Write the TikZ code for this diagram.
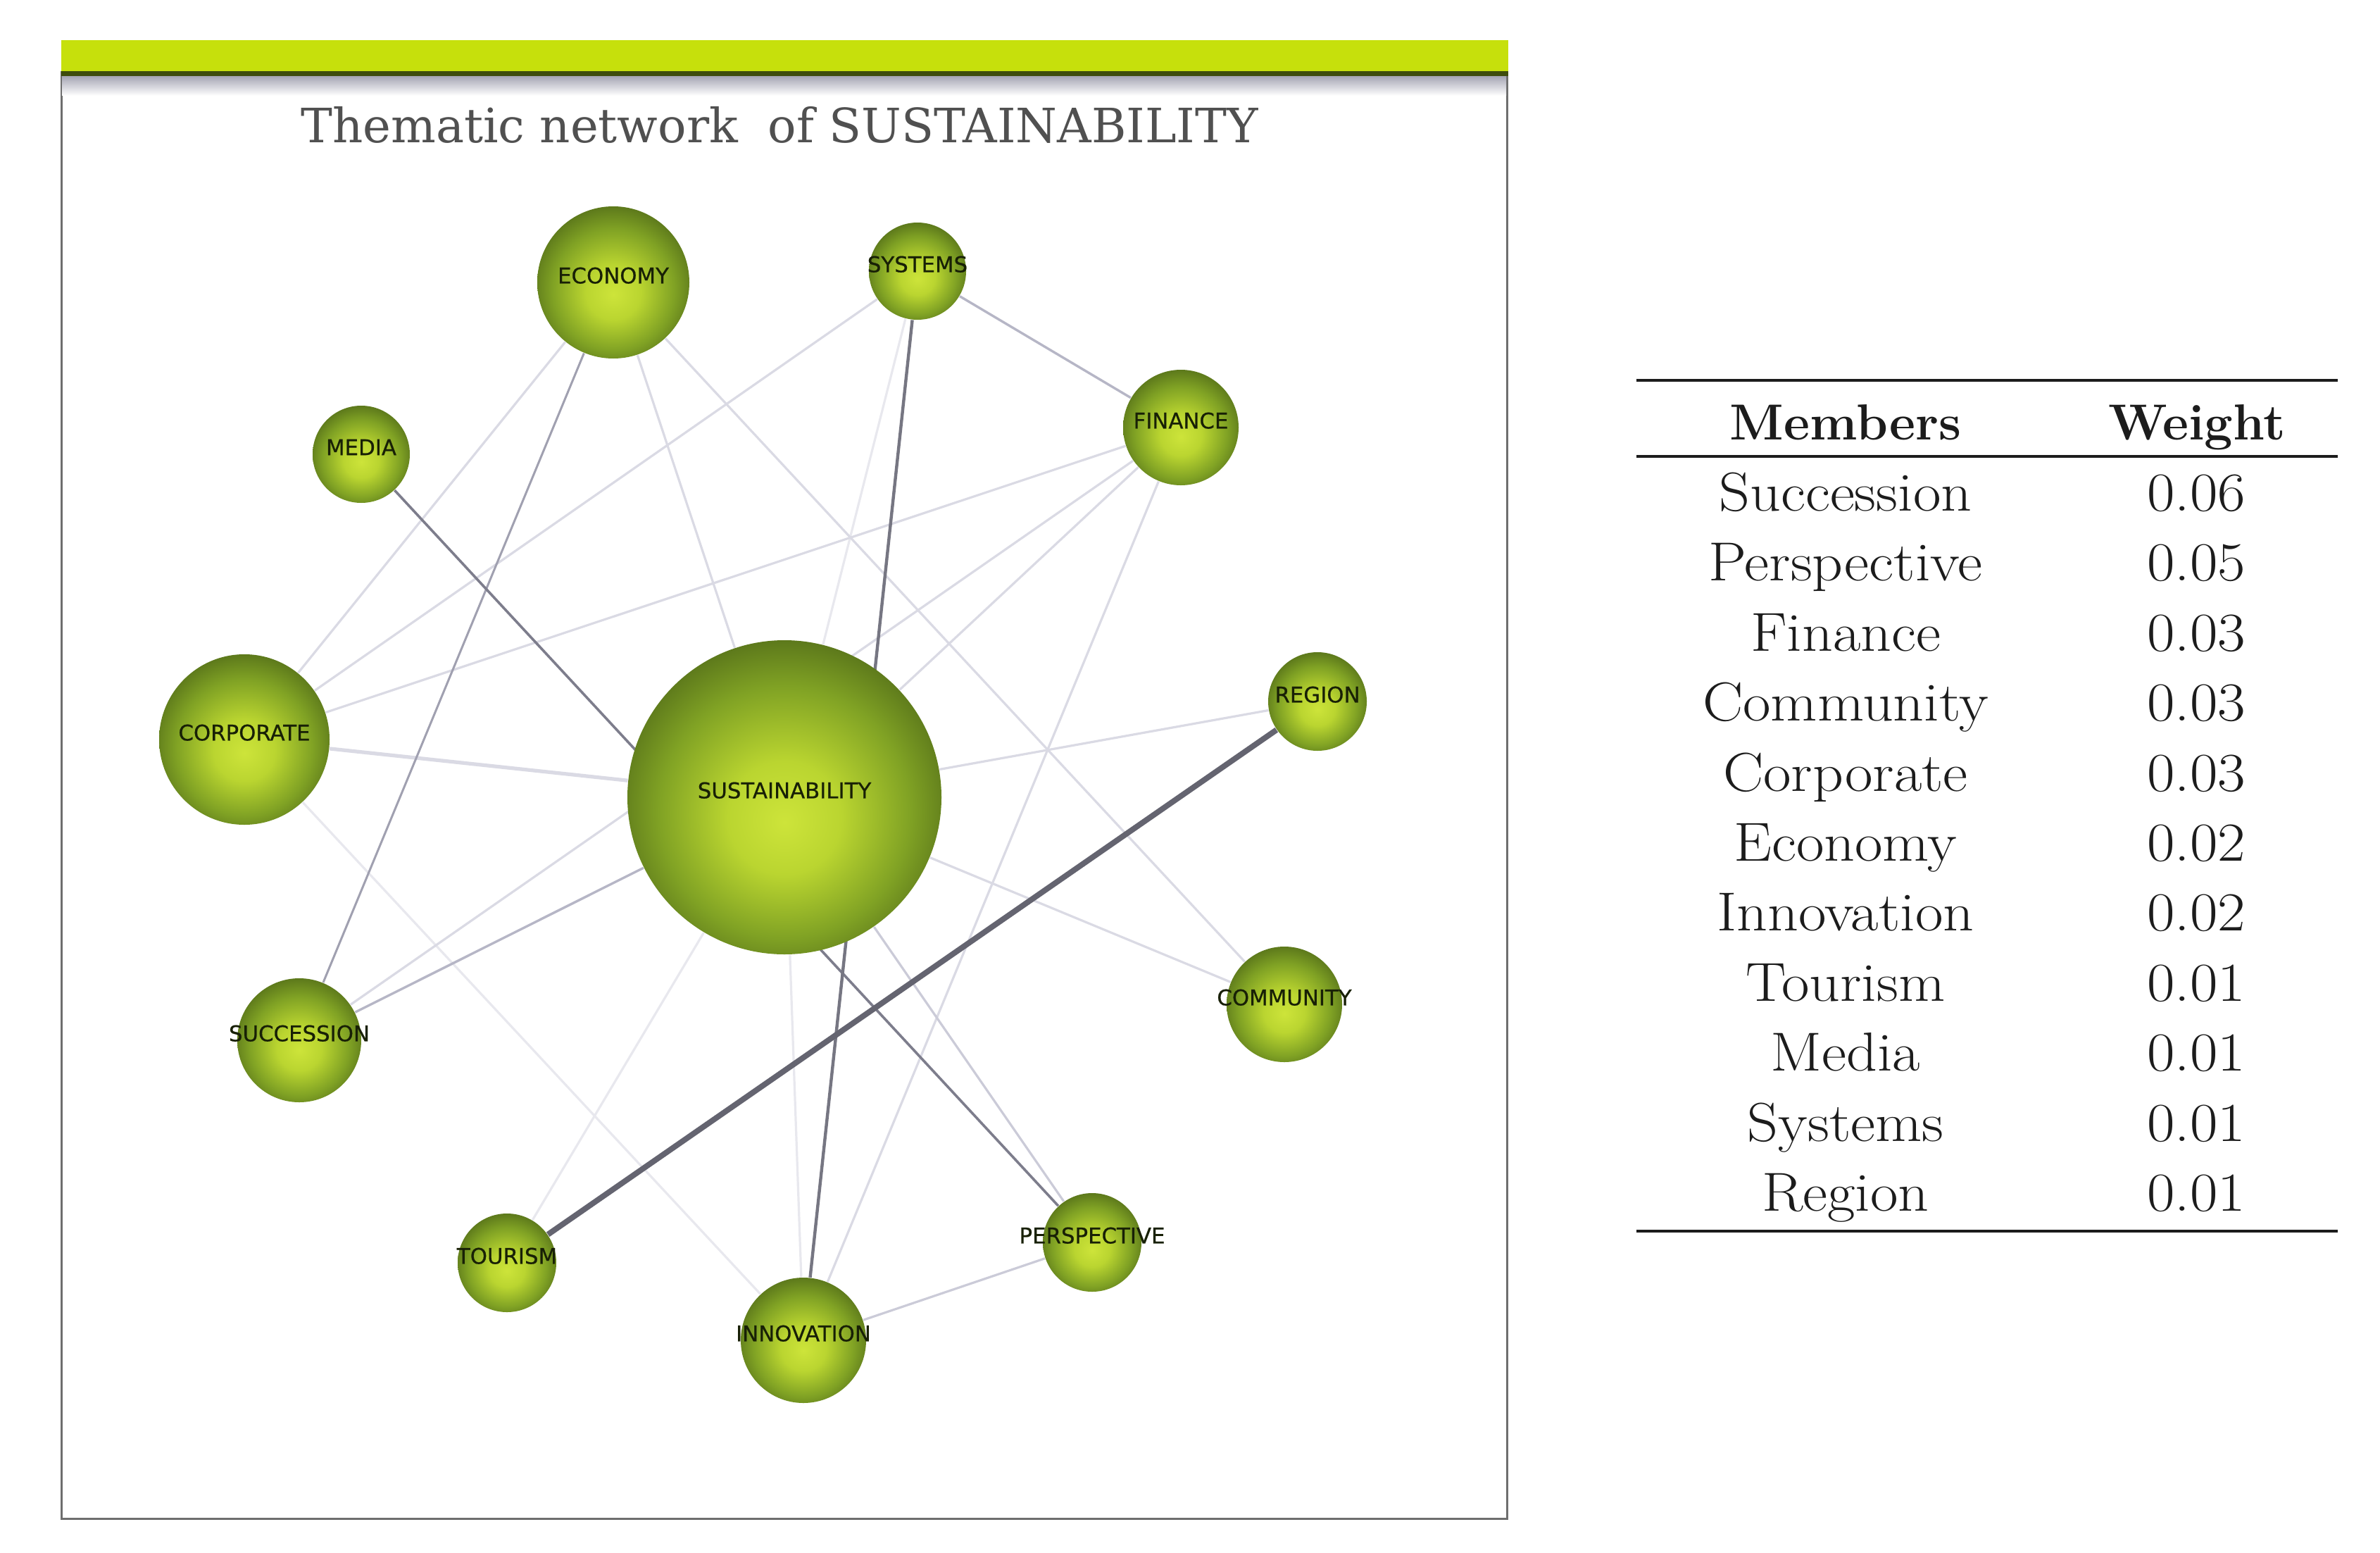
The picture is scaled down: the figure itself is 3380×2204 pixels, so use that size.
\documentclass[tikz,border=0pt]{standalone}
\usepackage{fontspec}
\newfontfamily\lblfont[FakeBold=0.6]{DejaVu Sans}
\newfontfamily\ttlfont{DejaVu Serif}
\newfontfamily\tabfont[FakeStretch=1.1]{Latin Modern Roman}
\newfontfamily\tabheadfont{Latin Modern Roman}

\definecolor{sphA}{RGB}{205,228,58}
\definecolor{sphB}{RGB}{186,213,48}
\definecolor{sphC}{RGB}{128,162,36}
\definecolor{sphD}{RGB}{92,120,27}
\pgfdeclareradialshading{sph}{\pgfpoint{0bp}{-4bp}}{color(0bp)=(sphA); color(9bp)=(sphB); color(20bp)=(sphC); color(27bp)=(sphD); color(50bp)=(sphD)}

\definecolor{lblc}{RGB}{24,32,6}
\definecolor{ttlc}{RGB}{80,80,80}
\definecolor{barg}{RGB}{198,224,12}
\definecolor{bardark}{RGB}{62,76,12}
\definecolor{framec}{RGB}{110,110,110}
\definecolor{tabc}{RGB}{28,28,28}
\definecolor{edThick}{RGB}{100,100,112}
\definecolor{edDark}{RGB}{118,118,130}
\definecolor{edDarkB}{RGB}{125,125,140}
\definecolor{edMid}{RGB}{160,160,176}
\definecolor{edML}{RGB}{182,182,198}
\definecolor{edLB}{RGB}{203,203,216}
\definecolor{edL}{RGB}{218,218,228}
\definecolor{edF}{RGB}{232,232,238}

\pgfdeclarelayer{back}
\pgfdeclarelayer{edges}
\pgfsetlayers{back,edges,main}

\newcommand\lb[1]{\makebox[0pt]{#1}}

\tikzset{
  sphere/.style={circle, inner sep=0pt, shading=sph, text depth=5pt,
    font=\lblfont\fontsize{7.7}{8}\selectfont, text=lblc},
  eThick/.style={draw=edThick, line width=2pt},
  eDark/.style={draw=edDark, line width=1.1pt},
  eDarkB/.style={draw=edDarkB, line width=0.9pt},
  eMid/.style={draw=edMid, line width=0.75pt},
  eML/.style={draw=edML, line width=0.85pt},
  eLB/.style={draw=edLB, line width=0.8pt},
  eL/.style={draw=edL, line width=0.8pt},
  eF/.style={draw=edF, line width=0.8pt},
  eWide/.style={draw=edL, line width=1.3pt},
  tabtxt/.style={anchor=base, inner sep=0pt, text=tabc,
    font=\tabfont\fontsize{19.5}{22}\selectfont},
  tabhead/.style={tabtxt, font=\tabheadfont\bfseries\fontsize{18}{22}\selectfont},
  rulel/.style={draw=tabc, line width=1pt}
}

\begin{document}
\begin{tikzpicture}[x=0.25pt, y=-0.25pt]
\useasboundingbox (0,0) rectangle (3380,2204);

\begin{pgfonlayer}{back}
  \fill[white] (0,0) rectangle (3380,2204);
  \draw[framec, line width=0.75pt] (87,103) rectangle (2140,2156);
  \shade[top color={rgb,255:red,165;green,165;blue,180}, bottom color=white] (88,108) rectangle (2139,136);
  \fill[barg] (87,57) rectangle (2142,104);
  \fill[bardark] (87,101) rectangle (2142,108);
\end{pgfonlayer}

% title
\node[anchor=base, inner sep=0pt, text=ttlc] (title) at (1107,203)
  {\resizebox{339.75pt}{!}{\ttlfont Thematic network\ \ of SUSTAINABILITY}};

% nodes
\node[sphere, minimum size=111.5pt] (sus) at (1114,1132) {\lb{SUSTAINABILITY}};
\node[sphere, minimum size=54pt]   (eco) at (871,401)  {\lb{ECONOMY}};
\node[sphere, minimum size=34.5pt] (sys) at (1303,385) {\lb{SYSTEMS}};
\node[sphere, minimum size=34.5pt] (med) at (513,645)  {\lb{MEDIA}};
\node[sphere, minimum size=41pt]   (fin) at (1677,607) {\lb{FINANCE}};
\node[sphere, minimum size=60.5pt] (cor) at (347,1050) {\lb{CORPORATE}};
\node[sphere, minimum size=35pt]   (reg) at (1871,996) {\lb{REGION}};
\node[sphere, minimum size=44pt]   (suc) at (425,1477) {\lb{SUCCESSION}};
\node[sphere, minimum size=41pt]   (com) at (1824,1426) {\lb{COMMUNITY}};
\node[sphere, minimum size=35pt]   (tou) at (720,1793) {\lb{TOURISM}};
\node[sphere, minimum size=35pt]   (per) at (1551,1764) {\lb{PERSPECTIVE}};
\node[sphere, minimum size=44.5pt] (inn) at (1141,1903) {\lb{INNOVATION}};

% edges
\begin{pgfonlayer}{edges}
  \draw[eF] (cor) -- (inn);
  \draw[eF] (sys) -- (sus);
  \draw[eF] (tou) -- (sus);
  \draw[eF] (sus) -- (inn);
  \draw[eL] (cor) -- (sys);
  \draw[eL] (cor) -- (fin);
  \draw[eL] (cor) -- (eco);
  \draw[eWide] (cor) -- (sus);
  \draw[eL] (eco) -- (sus);
  \draw[eL] (eco) -- (com);
  \draw[eL] (fin) -- (sus);
  \draw[eL] (fin) -- (suc);
  \draw[eL] (fin) -- (inn);
  \draw[eL] (sus) -- (reg);
  \draw[eL] (sus) -- (com);
  \draw[eLB] (per) -- (sus);
  \draw[eLB] (inn) -- (per);
  \draw[eML] (suc) -- (sus);
  \draw[eML] (sys) -- (fin);
  \draw[eMid] (eco) -- (suc);
  \draw[eDarkB] (med) -- (per);
  \draw[eDark] (sys) -- (inn);
  \draw[eThick] (reg) -- (tou);
\end{pgfonlayer}

% table
\draw[rulel] (2324,540) -- (3320,540);
\draw[rulel] (2324,648) -- (3320,648);
\draw[rulel] (2324,1748) -- (3320,1748);
\node[tabhead] (hm) at (2621,624) {Members};
\node[tabhead] (hw) at (3120,624) {Weight};
\node[tabtxt] (m1) at (2621,725) {Succession};   \node[tabtxt] (w1) at (3119,725) {0.06};
\node[tabtxt] (m2) at (2621,824) {Perspective};  \node[tabtxt] (w2) at (3119,824) {0.05};
\node[tabtxt] (m3) at (2621,924) {Finance};      \node[tabtxt] (w3) at (3119,924) {0.03};
\node[tabtxt] (m4) at (2621,1023) {Community};   \node[tabtxt] (w4) at (3119,1023) {0.03};
\node[tabtxt] (m5) at (2621,1123) {Corporate};   \node[tabtxt] (w5) at (3119,1123) {0.03};
\node[tabtxt] (m6) at (2621,1222) {Economy};     \node[tabtxt] (w6) at (3119,1222) {0.02};
\node[tabtxt] (m7) at (2621,1321) {Innovation};  \node[tabtxt] (w7) at (3119,1321) {0.02};
\node[tabtxt] (m8) at (2621,1421) {Tourism};     \node[tabtxt] (w8) at (3119,1421) {0.01};
\node[tabtxt] (m9) at (2621,1520) {Media};       \node[tabtxt] (w9) at (3119,1520) {0.01};
\node[tabtxt] (m10) at (2621,1620) {Systems};    \node[tabtxt] (w10) at (3119,1620) {0.01};
\node[tabtxt] (m11) at (2621,1719) {Region};     \node[tabtxt] (w11) at (3119,1719) {0.01};
\end{tikzpicture}
\end{document}
